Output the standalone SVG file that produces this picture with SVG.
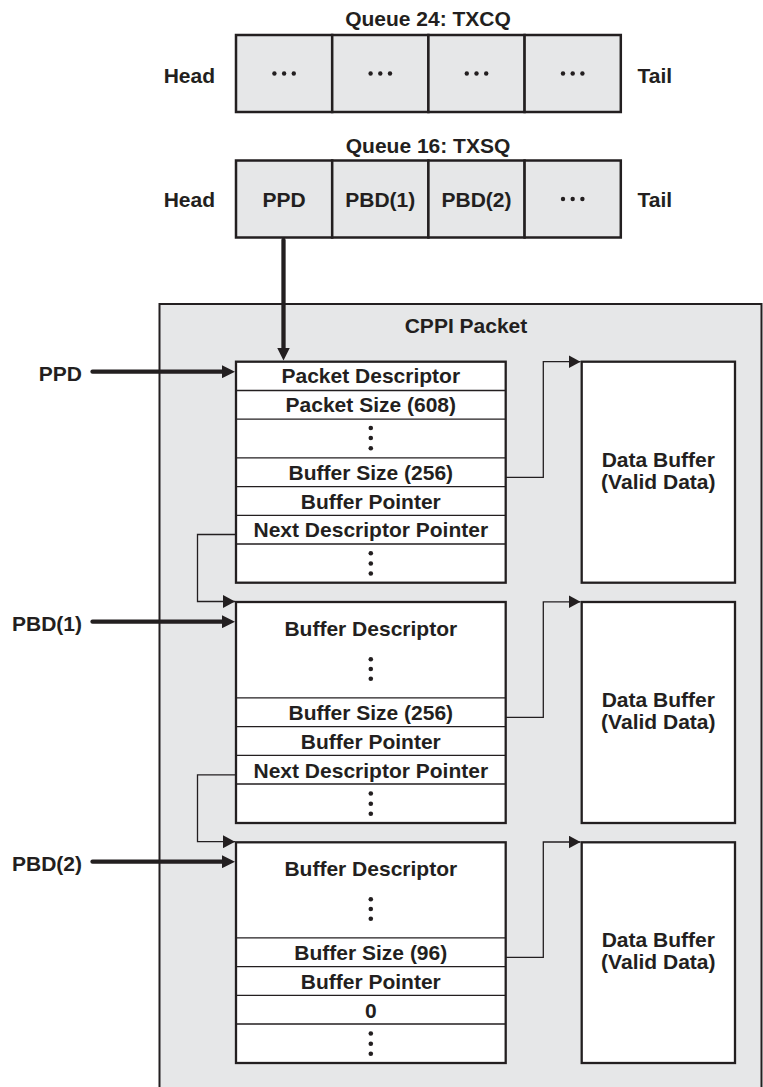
<svg xmlns="http://www.w3.org/2000/svg" width="763" height="1087" viewBox="0 0 763 1087">
<defs>
<style>
.t{font-family:"Liberation Sans",Arial,Helvetica,sans-serif;font-weight:bold;font-size:21px;fill:#231f20}
.c{text-anchor:middle}
.e{text-anchor:end}
.cell{fill:#e6e7e8;stroke:#231f20;stroke-width:2.5}
.box{fill:#ffffff;stroke:#231f20;stroke-width:2.3}
.div{stroke:#231f20;stroke-width:1.3;fill:none}
.thin{fill:none;stroke:#231f20;stroke-width:1.3}
.thick{fill:none;stroke:#231f20;stroke-width:4.3;stroke-linecap:round}
.dot{fill:#231f20}
</style>
<marker id="ah" viewBox="0 0 12 13" refX="12" refY="6.5" markerWidth="12" markerHeight="13" markerUnits="userSpaceOnUse" orient="auto">
<path d="M0,0 L12,6.5 L0,13 z" fill="#231f20"/>
</marker>
<marker id="ahb" viewBox="0 0 13 13" refX="5" refY="6.5" markerWidth="13" markerHeight="13" markerUnits="userSpaceOnUse" orient="auto">
<path d="M0,0 L13,6.5 L0,13 z" fill="#231f20"/>
</marker>
</defs>

<g id="cppi-packet">
<rect x="159.5" y="304" width="602" height="800" fill="#e6e7e8" stroke="#231f20" stroke-width="2"/>
<text class="t c" x="466" y="333">CPPI Packet</text>
</g>

<g id="queue24">
<text class="t c" x="428" y="26">Queue 24: TXCQ</text>
<text class="t e" x="215" y="82.5">Head</text>
<text class="t" x="637.5" y="82.5">Tail</text>
<rect class="cell" x="236" y="35" width="96.2" height="77"/>
<rect class="cell" x="332.2" y="35" width="96.2" height="77"/>
<rect class="cell" x="428.4" y="35" width="96.2" height="77"/>
<rect class="cell" x="524.6" y="35" width="96.2" height="77"/>
<circle class="dot" cx="274.4" cy="73.5" r="2.2"/><circle class="dot" cx="284.1" cy="73.5" r="2.2"/><circle class="dot" cx="293.8" cy="73.5" r="2.2"/>
<circle class="dot" cx="370.6" cy="73.5" r="2.2"/><circle class="dot" cx="380.3" cy="73.5" r="2.2"/><circle class="dot" cx="390" cy="73.5" r="2.2"/>
<circle class="dot" cx="466.8" cy="73.5" r="2.2"/><circle class="dot" cx="476.5" cy="73.5" r="2.2"/><circle class="dot" cx="486.2" cy="73.5" r="2.2"/>
<circle class="dot" cx="563" cy="73.5" r="2.2"/><circle class="dot" cx="572.7" cy="73.5" r="2.2"/><circle class="dot" cx="582.4" cy="73.5" r="2.2"/>
</g>

<g id="queue16">
<text class="t c" x="428" y="152.5">Queue 16: TXSQ</text>
<text class="t e" x="215" y="206.5">Head</text>
<text class="t" x="637.5" y="206.5">Tail</text>
<rect class="cell" x="236" y="160.5" width="96.2" height="77"/>
<rect class="cell" x="332.2" y="160.5" width="96.2" height="77"/>
<rect class="cell" x="428.4" y="160.5" width="96.2" height="77"/>
<rect class="cell" x="524.6" y="160.5" width="96.2" height="77"/>
<text class="t c" x="284.1" y="206.5">PPD</text>
<text class="t c" x="380.3" y="206.5">PBD(1)</text>
<text class="t c" x="476.5" y="206.5">PBD(2)</text>
<circle class="dot" cx="563" cy="199" r="2.2"/><circle class="dot" cx="572.7" cy="199" r="2.2"/><circle class="dot" cx="582.4" cy="199" r="2.2"/>
</g>

<g id="connectors">
<path class="thick" d="M283.5,240 V352.5" marker-end="url(#ahb)"/>
<path class="thick" d="M92.5,371.7 H227" marker-end="url(#ahb)"/>
<path class="thick" d="M92.5,621.7 H227" marker-end="url(#ahb)"/>
<path class="thick" d="M92.5,861.7 H227" marker-end="url(#ahb)"/>
<path class="thin" d="M236,534.5 H197.5 V601.5 H235" marker-end="url(#ah)"/>
<path class="thin" d="M236,774.8 H197.5 V841.7 H235" marker-end="url(#ah)"/>
<path class="thin" d="M505.7,477.3 H543.3 V361.7 H580.5" marker-end="url(#ah)"/>
<path class="thin" d="M505.7,717.3 H543.3 V601.8 H580.5" marker-end="url(#ah)"/>
<path class="thin" d="M505.7,957.3 H543.3 V842 H580.5" marker-end="url(#ah)"/>
</g>

<g id="label-ppd"><text class="t e" x="82" y="380.5">PPD</text></g>
<g id="label-pbd1"><text class="t e" x="82" y="630.5">PBD(1)</text></g>
<g id="label-pbd2"><text class="t e" x="82" y="870.5">PBD(2)</text></g>

<g id="packet-descriptor">
<rect class="box" x="236" y="361.7" width="269.7" height="221"/>
<path class="div" d="M236,390.5 H505.7 M236,419.2 H505.7 M236,457.8 H505.7 M236,486.7 H505.7 M236,515.3 H505.7 M236,544 H505.7"/>
<text class="t c" x="370.8" y="383">Packet Descriptor</text>
<text class="t c" x="370.8" y="412">Packet Size (608)</text>
<circle class="dot" cx="370.8" cy="428" r="2.3"/><circle class="dot" cx="370.8" cy="438" r="2.3"/><circle class="dot" cx="370.8" cy="448.3" r="2.3"/>
<text class="t c" x="370.8" y="480">Buffer Size (256)</text>
<text class="t c" x="370.8" y="508.5">Buffer Pointer</text>
<text class="t c" x="370.8" y="537.3">Next Descriptor Pointer</text>
<circle class="dot" cx="370.8" cy="553.3" r="2.3"/><circle class="dot" cx="370.8" cy="563.5" r="2.3"/><circle class="dot" cx="370.8" cy="573.5" r="2.3"/>
</g>

<g id="data-buffer-1">
<rect class="box" x="581.7" y="361.7" width="153.3" height="221"/>
<text class="t c" x="658.3" y="466.5">Data Buffer</text>
<text class="t c" x="658.3" y="488.5">(Valid Data)</text>
</g>

<g id="buffer-descriptor-1">
<rect class="box" x="236" y="602" width="269.7" height="221"/>
<path class="div" d="M236,697.8 H505.7 M236,726.7 H505.7 M236,755.3 H505.7 M236,784 H505.7"/>
<text class="t c" x="370.8" y="636">Buffer Descriptor</text>
<circle class="dot" cx="370.8" cy="659.3" r="2.3"/><circle class="dot" cx="370.8" cy="669" r="2.3"/><circle class="dot" cx="370.8" cy="678.7" r="2.3"/>
<text class="t c" x="370.8" y="720">Buffer Size (256)</text>
<text class="t c" x="370.8" y="748.7">Buffer Pointer</text>
<text class="t c" x="370.8" y="777.5">Next Descriptor Pointer</text>
<circle class="dot" cx="370.8" cy="793.5" r="2.3"/><circle class="dot" cx="370.8" cy="803.7" r="2.3"/><circle class="dot" cx="370.8" cy="813.7" r="2.3"/>
</g>

<g id="data-buffer-2">
<rect class="box" x="581.7" y="602" width="153.3" height="221"/>
<text class="t c" x="658.3" y="706.7">Data Buffer</text>
<text class="t c" x="658.3" y="728.7">(Valid Data)</text>
</g>

<g id="buffer-descriptor-2">
<rect class="box" x="236" y="842.3" width="269.7" height="220.7"/>
<path class="div" d="M236,937.8 H505.7 M236,966.7 H505.7 M236,995.3 H505.7 M236,1024 H505.7"/>
<text class="t c" x="370.8" y="876">Buffer Descriptor</text>
<circle class="dot" cx="370.8" cy="899.3" r="2.3"/><circle class="dot" cx="370.8" cy="909" r="2.3"/><circle class="dot" cx="370.8" cy="918.7" r="2.3"/>
<text class="t c" x="370.8" y="960">Buffer Size (96)</text>
<text class="t c" x="370.8" y="988.7">Buffer Pointer</text>
<text class="t c" x="370.8" y="1017.5">0</text>
<circle class="dot" cx="370.8" cy="1033.5" r="2.3"/><circle class="dot" cx="370.8" cy="1043.7" r="2.3"/><circle class="dot" cx="370.8" cy="1053.7" r="2.3"/>
</g>

<g id="data-buffer-3">
<rect class="box" x="581.7" y="842.3" width="153.3" height="220.7"/>
<text class="t c" x="658.3" y="946.7">Data Buffer</text>
<text class="t c" x="658.3" y="968.7">(Valid Data)</text>
</g>
</svg>
